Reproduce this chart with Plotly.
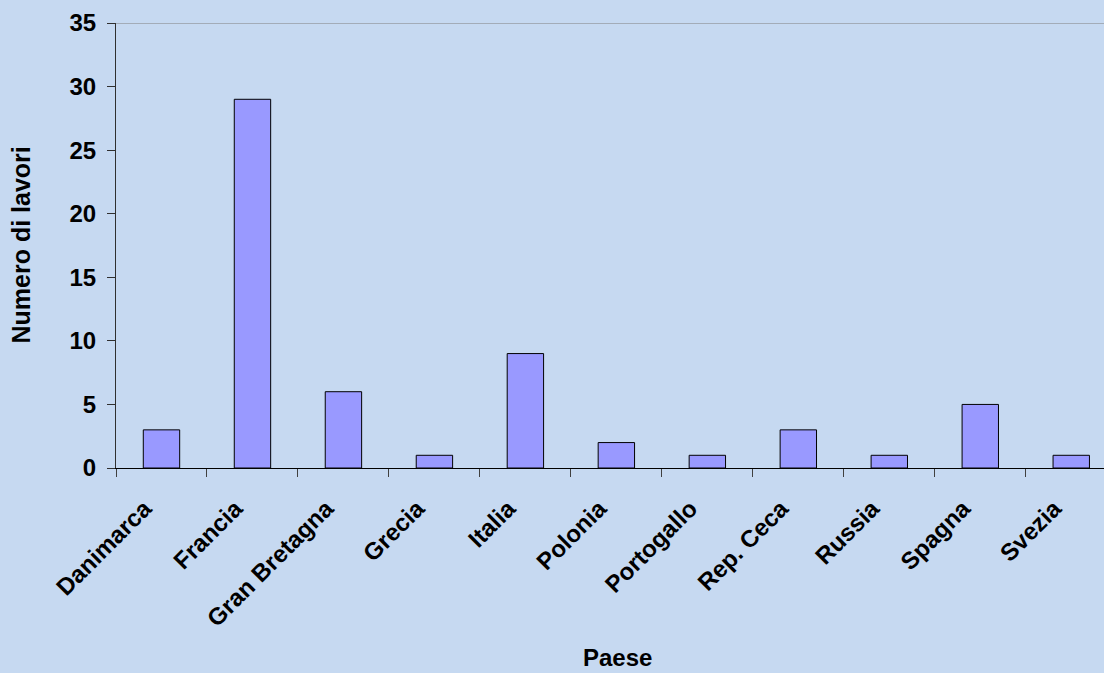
import plotly.graph_objects as go

paesi = ["Danimarca", "Francia", "Gran Bretagna", "Grecia", "Italia", "Polonia",
         "Portogallo", "Rep. Ceca", "Russia", "Spagna", "Svezia"]
lavori = [3, 29, 6, 1, 9, 2, 1, 3, 1, 5, 1]
y_ticks = [0, 5, 10, 15, 20, 25, 30, 35]

BG = "#C6D9F1"
FONT = "Arial, Liberation Sans, sans-serif"

fig = go.Figure(go.Bar(
    x=paesi, y=lavori,
    marker=dict(color="#9999FF", line=dict(color="black", width=1)),
    width=0.4,
))

fig.update_layout(
    width=1104, height=673,
    margin=dict(l=116, r=0, t=23, b=205),
    paper_bgcolor=BG, plot_bgcolor=BG,
    showlegend=False,
    font=dict(family=FONT, size=24, color="black", weight="bold"),
    shapes=[dict(type="line", xref="paper", yref="y", x0=0, x1=1, y0=35, y1=35,
                 line=dict(color="#808080", width=1))],
    annotations=[
        dict(text="Numero di lavori", xref="paper", yref="paper",
             x=-(116 - 20) / 988, y=0.5, textangle=-90, showarrow=False,
             xanchor="center", yanchor="middle",
             font=dict(family=FONT, size=25, color="black", weight="bold")),
        dict(text="Paese", xref="paper", yref="paper",
             x=(617 - 116) / 988, y=(468 - 672) / 445, showarrow=False,
             xanchor="center", yanchor="bottom", borderpad=0,
             font=dict(family=FONT, size=24, color="black", weight="bold")),
    ],
)

fig.update_xaxes(
    range=[-0.5, 10.36], showline=True, linecolor="black", linewidth=1,
    ticks="outside", ticklen=8, tickcolor="#404040", tickson="boundaries",
    tickangle=-45, showgrid=False, zeroline=False,
    ticklabelstandoff=16, ticklabelshift=-17,
    tickfont=dict(family=FONT, size=24, color="black", weight="bold"),
)
fig.update_yaxes(
    range=[0, 35], tickvals=y_ticks, showline=True, linecolor="#303030", linewidth=1,
    ticks="outside", ticklen=8, tickcolor="#303030", ticklabelstandoff=6,
    showgrid=False, zeroline=False,
    tickfont=dict(family=FONT, size=24, color="black", weight="bold"),
)

fig.write_html("out.html")
